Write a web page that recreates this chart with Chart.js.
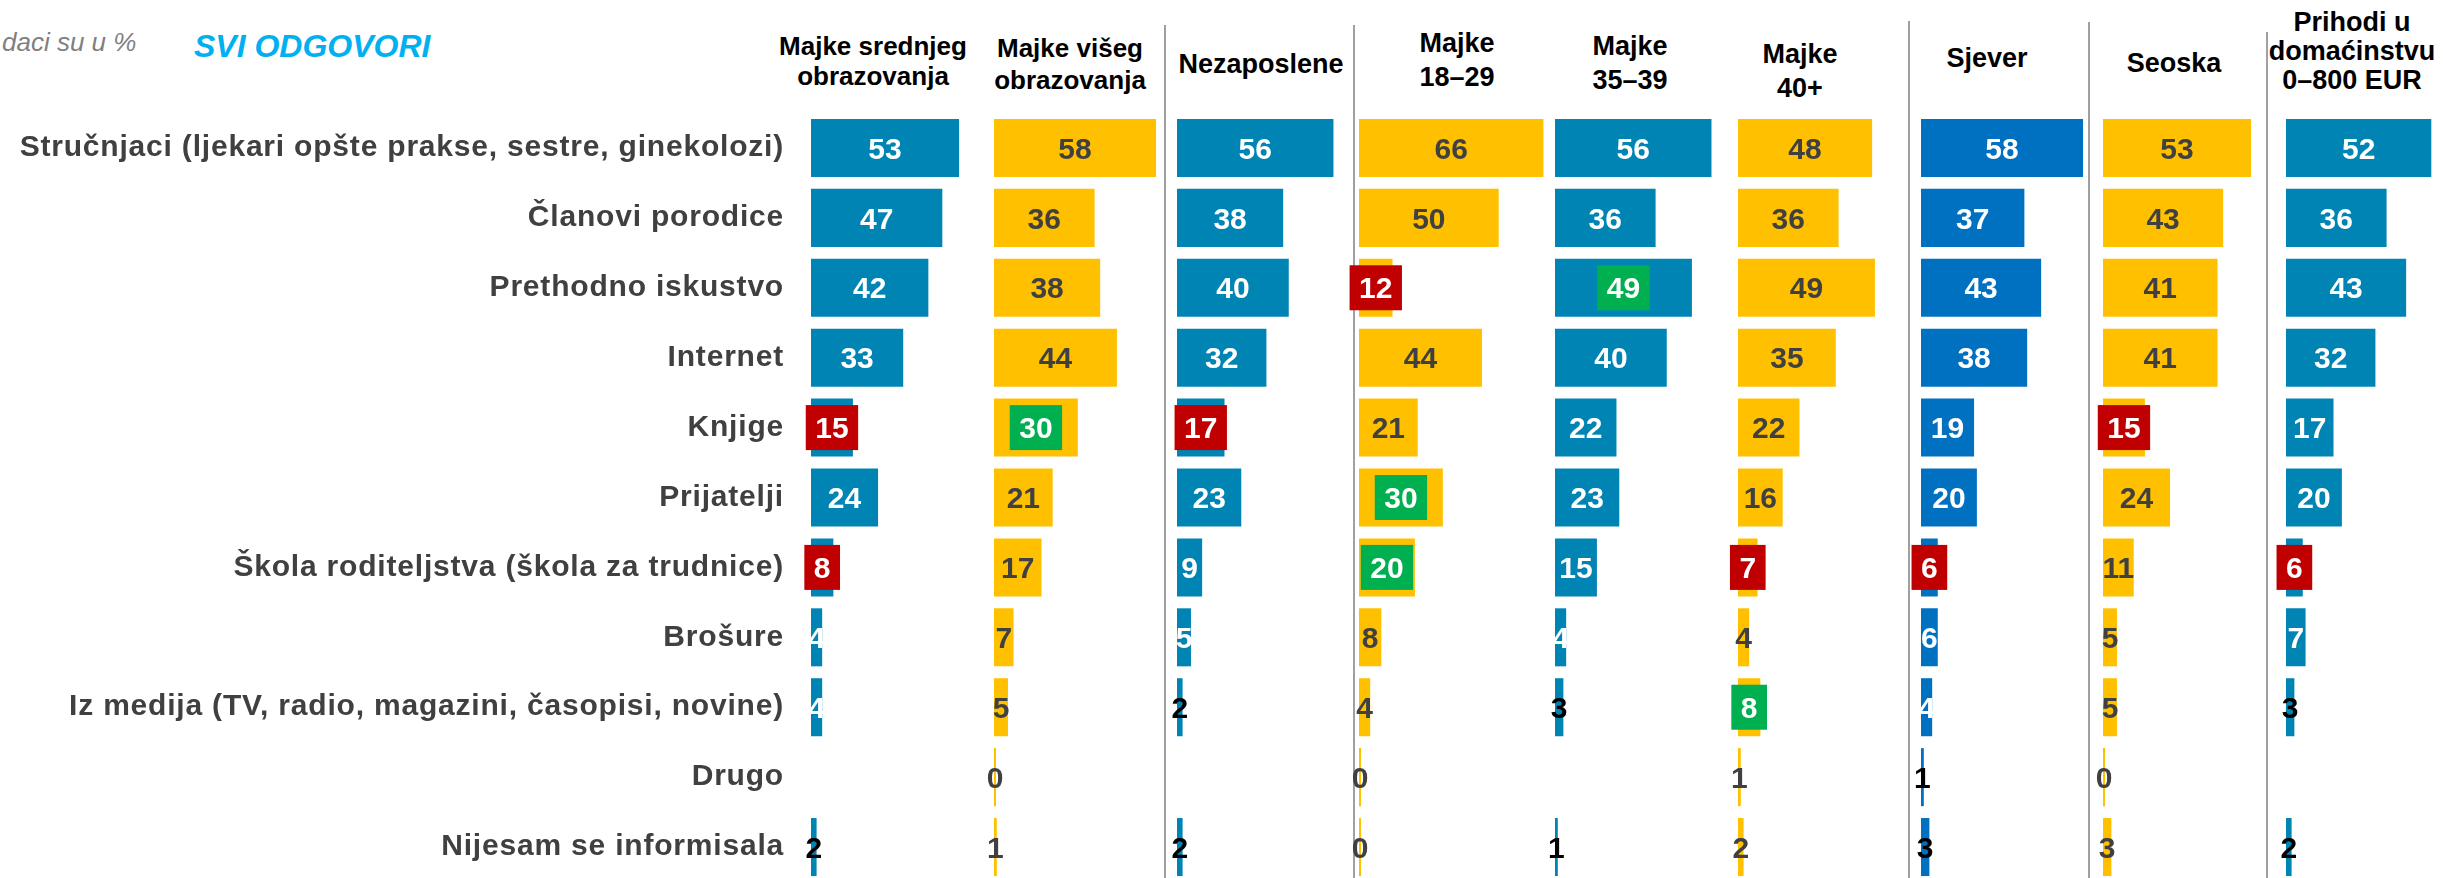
<!DOCTYPE html>
<html lang="sr">
<head>
<meta charset="utf-8">
<title>Izvori informisanja - svi odgovori</title>
<script src="https://cdn.jsdelivr.net/npm/chart.js@4.4.0/dist/chart.umd.min.js"></script>
<style>
  html, body { margin: 0; padding: 0; background: #fff; }
  #page { position: relative; width: 2443px; height: 878px; overflow: hidden; font-family: "Liberation Sans", Arial, sans-serif; }
  #page canvas { position: absolute; top: 0; }
  .head { position: absolute; transform: translateX(-50%); white-space: nowrap; text-align: center; font-weight: bold; color: #000; }
  .sep { position: absolute; width: 2px; bottom: 0; background: #a0a0a0; }
  #note { position: absolute; left: 2px; top: 29px; font-size: 26px; line-height: 26px; font-style: italic; color: #7f7f7f; }
  #title { position: absolute; left: 194px; top: 30px; font-size: 32px; line-height: 32px; font-style: italic; font-weight: bold; color: #00b0f0; }
</style>
</head>
<body>
<div id="page">
  <div id="note">daci su u %</div>
  <div id="title">SVI ODGOVORI</div>
</div>
<script>
// kategorije (izvori informisanja)
const categories = [
    'Stručnjaci (ljekari opšte prakse, sestre, ginekolozi)',
    'Članovi porodice',
    'Prethodno iskustvo',
    'Internet',
    'Knjige',
    'Prijatelji',
    'Škola roditeljstva (škola za trudnice)',
    'Brošure',
    'Iz medija (TV, radio, magazini, časopisi, novine)',
    'Drugo',
    'Nijesam se informisala'
];

// naslovi grupa
const panelTitles = [
    ['Majke srednjeg', 'obrazovanja'],
    ['Majke višeg', 'obrazovanja'],
    ['Nezaposlene'],
    ['Majke', '18–29'],
    ['Majke', '35–39'],
    ['Majke', '40+'],
    ['Sjever'],
    ['Seoska'],
    ['Prihodi u', 'domaćinstvu', '0–800 EUR']
];

// vrijednosti u %
const srednjeObrazovanje = [53, 47, 42, 33, 15, 24, 8, 4, 4, null, 2];
const viseObrazovanje = [58, 36, 38, 44, 30, 21, 17, 7, 5, 0, 1];
const nezaposlene = [56, 38, 40, 32, 17, 23, 9, 5, 2, null, 2];
const majke1829 = [66, 50, 12, 44, 21, 30, 20, 8, 4, 0, 0];
const majke3539 = [56, 36, 49, 40, 22, 23, 15, 4, 3, null, 1];
const majke40 = [48, 36, 49, 35, 22, 16, 7, 4, 8, 1, 2];
const sjever = [58, 37, 43, 38, 19, 20, 6, 6, 4, 1, 3];
const seoska = [53, 43, 41, 41, 15, 24, 11, 5, 5, 0, 3];
const prihodi = [52, 36, 43, 32, 17, 20, 6, 7, 3, null, 2];

// statistička značajnost: -1 niže od prosjeka, 1 više od prosjeka
const markSrednje = [0, 0, 0, 0, -1, 0, -1, 0, 0, 0, 0];
const markVise = [0, 0, 0, 0, 1, 0, 0, 0, 0, 0, 0];
const markNezaposlene = [0, 0, 0, 0, -1, 0, 0, 0, 0, 0, 0];
const mark1829 = [0, 0, -1, 0, 0, 1, 1, 0, 0, 0, 0];
const mark3539 = [0, 0, 1, 0, 0, 0, 0, 0, 0, 0, 0];
const mark40 = [0, 0, 0, 0, 0, 0, -1, 0, 1, 0, 0];
const markSjever = [0, 0, 0, 0, 0, 0, -1, 0, 0, 0, 0];
const markSeoska = [0, 0, 0, 0, -1, 0, 0, 0, 0, 0, 0];
const markPrihodi = [0, 0, 0, 0, 0, 0, -1, 0, 0, 0, 0];

const panelValues = [srednjeObrazovanje, viseObrazovanje, nezaposlene, majke1829, majke3539, majke40, sjever, seoska, prihodi];
const panelMarks = [markSrednje, markVise, markNezaposlene, mark1829, mark3539, mark40, markSjever, markSeoska, markPrihodi];

// izgled
const TEAL = '#0084b4', YELLOW = '#ffc000', BLUE = '#0070c0';
const panelColors = [TEAL, YELLOW, TEAL, YELLOW, TEAL, YELLOW, BLUE, YELLOW, TEAL];
const panelStart = [811, 994, 1177, 1359, 1555, 1738, 1921, 2103, 2286];
const headLayout = [
    { x: 873, top: 31, lh: 30, fs: 26 },
    { x: 1070, top: 32, lh: 32, fs: 26 },
    { x: 1261, top: 49, lh: 30, fs: 27 },
    { x: 1457, top: 26, lh: 34, fs: 27 },
    { x: 1630, top: 29, lh: 34, fs: 27 },
    { x: 1800, top: 37, lh: 34, fs: 27 },
    { x: 1987, top: 43, lh: 30, fs: 27 },
    { x: 2174, top: 48, lh: 30, fs: 27 },
    { x: 2352, top: 8, lh: 29, fs: 27 }
];
const separators = [[1164, 25], [1353, 25], [1908, 21], [2088, 22], [2266, 32]];

const AREA_W = 190;   // širina površine za stubiće
const X_MAX = 68;     // vrijednost na desnoj ivici
const PAD = 24;       // prostor lijevo za okvire značajnosti
const FONT = '"Liberation Sans", Arial, sans-serif';

const page = document.getElementById('page');

// ispis vrijednosti na stubićima
const valueLabels = {
    id: 'valueLabels',
    afterDatasetsDraw(chart, args, opts) {
        const ctx = chart.ctx;
        const values = chart.data.datasets[0].data;
        ctx.save();
        ctx.font = 'bold 30px ' + FONT;
        ctx.textAlign = 'center';
        ctx.textBaseline = 'alphabetic';
        chart.getDatasetMeta(0).data.forEach((bar, i) => {
            const v = values[i];
            if (v === null) return;
            const txt = String(v);
            const cx = (bar.x + bar.base) / 2;
            const w = ctx.measureText(txt).width;
            const mark = opts.marks[i];
            if (mark) {
                ctx.fillStyle = mark < 0 ? '#c00000' : '#00b050';
                ctx.fillRect(cx - w / 2 - 9.5, bar.y - 22.5, w + 19, 45);
                ctx.fillStyle = '#ffffff';
            } else if (opts.dark) {
                ctx.fillStyle = '#404040';
            } else {
                ctx.fillStyle = v >= 4 ? '#ffffff' : '#000000';
            }
            ctx.fillText(txt, cx, bar.y + 10.7);
        });
        ctx.restore();
    }
};

// razmak slova za nazive kategorija
const tickSpacing = {
    id: 'tickSpacing',
    beforeDraw(chart) { chart.ctx.letterSpacing = '0.8px'; },
    beforeDatasetsDraw(chart) { chart.ctx.letterSpacing = '0px'; }
};

// lijeva osa: fiksna širina, bez dodatnog razmaka gore i dolje
function fitLabelAxis(scale) {
    scale.width = panelStart[0];
    scale.paddingTop = 0;
    scale.paddingBottom = 0;
}

function addHeaders() {
    panelTitles.forEach((lines, i) => {
        const h = headLayout[i];
        const div = document.createElement('div');
        div.className = 'head';
        div.style.left = h.x + 'px';
        div.style.top = h.top + 'px';
        div.style.fontSize = h.fs + 'px';
        div.style.lineHeight = h.lh + 'px';
        div.innerHTML = lines.join('<br>');
        page.appendChild(div);
    });
    separators.forEach(([x, top]) => {
        const div = document.createElement('div');
        div.className = 'sep';
        div.style.left = x + 'px';
        div.style.top = top + 'px';
        page.appendChild(div);
    });
}

function makePanel(i) {
    const first = i === 0;
    const canvas = document.createElement('canvas');
    canvas.width = first ? panelStart[0] + AREA_W : PAD + AREA_W;
    canvas.height = 882;
    canvas.style.left = (first ? 0 : panelStart[i] - PAD) + 'px';
    page.appendChild(canvas);

    new Chart(canvas, {
        type: 'bar',
        data: {
            labels: categories,
            datasets: [{
                data: panelValues[i],
                backgroundColor: panelColors[i],
                barPercentage: 0.83,
                categoryPercentage: 1,
                minBarLength: 2
            }]
        },
        options: {
            indexAxis: 'y',
            responsive: false,
            animation: false,
            devicePixelRatio: 1,
            layout: { padding: { left: first ? 0 : PAD, top: 113, right: 0, bottom: 0 } },
            scales: {
                x: { display: false, min: 0, max: X_MAX },
                y: {
                    display: first,
                    grid: { display: false, drawTicks: false },
                    border: { display: false },
                    ticks: {
                        autoSkip: false,
                        padding: 27,
                        color: '#404040',
                        font: { family: FONT, size: 30, weight: 'bold' }
                    },
                    afterFit: first ? fitLabelAxis : undefined
                }
            },
            plugins: {
                legend: { display: false },
                tooltip: { enabled: false },
                valueLabels: { marks: panelMarks[i], dark: panelColors[i] === YELLOW }
            }
        },
        plugins: first ? [valueLabels, tickSpacing] : [valueLabels]
    });
}

addHeaders();
panelValues.forEach((_, i) => makePanel(i));
</script>
</body>
</html>
